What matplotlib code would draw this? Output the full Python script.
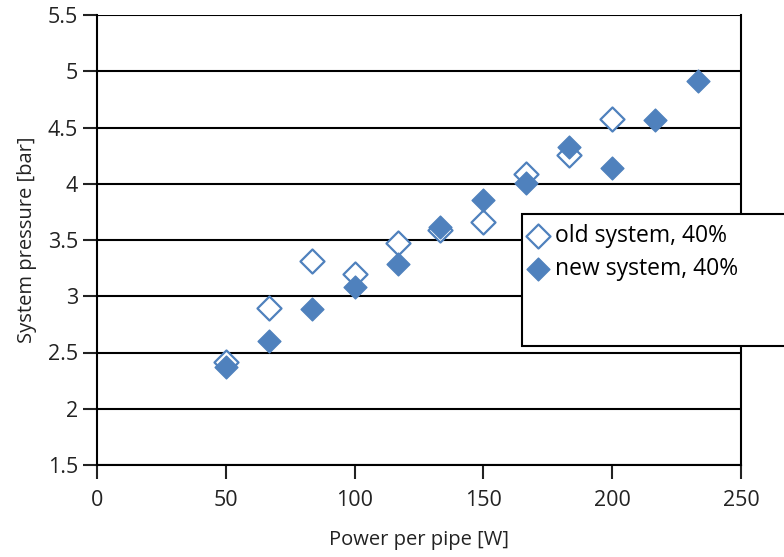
import matplotlib
matplotlib.use('Agg')
import matplotlib.pyplot as plt
from matplotlib.patches import Rectangle

# power per pipe [W] and system pressure [bar]
power_old = [50, 66.7, 83.3, 100, 116.7, 133.3, 150, 166.7, 183.3, 200]
pressure_old = [2.42, 2.90, 3.31, 3.20, 3.47, 3.59, 3.66, 4.09, 4.26, 4.58]
power_new = [50, 66.7, 83.3, 100, 116.7, 133.3, 150, 166.7, 183.3, 200, 216.7, 233.3]
pressure_new = [2.37, 2.60, 2.89, 3.08, 3.29, 3.62, 3.86, 4.01, 4.33, 4.14, 4.57, 4.91]

x_ticks = [0, 50, 100, 150, 200, 250]
y_ticks = [1.5, 2, 2.5, 3, 3.5, 4, 4.5, 5, 5.5]
y_labels = ['1.5', '2', '2.5', '3', '3.5', '4', '4.5', '5', '5.5']

blue = '#4f81bd'
txt = '#222222'
plt.rcParams['font.family'] = ['Open Sans', 'DejaVu Sans']

fig = plt.figure(figsize=(7.84, 5.57), dpi=100)
ax = fig.add_axes([97 / 784, 92 / 557, 644 / 784, 450 / 557])

ax.scatter(power_old, pressure_old, marker='D', s=150, facecolors='white',
           edgecolors=blue, linewidths=1.6, label='old system, 40%', zorder=3)
ax.scatter(power_new, pressure_new, marker='D', s=135, color=blue,
           label='new system, 40%', zorder=4)

ax.set_xlim(0, 250)
ax.set_ylim(1.5, 5.5)
ax.set_xticks(x_ticks)
ax.set_yticks(y_ticks)
ax.set_yticklabels(y_labels)
ax.yaxis.grid(True, color='black', linewidth=1.5)
ax.set_axisbelow(True)
for s in ax.spines.values():
    s.set_linewidth(1.5)
ax.spines['top'].set_visible(False)
ax.tick_params(length=10, width=1.5, labelsize=15.5, colors=txt)
ax.tick_params(axis='x', pad=8)
ax.set_xlabel('Power per pipe [W]', fontsize=14.5, color=txt, labelpad=14)
ax.set_ylabel('System pressure [bar]', fontsize=14.5, color=txt, labelpad=8)

# legend box extends past the right edge of the figure
fig.patches.append(Rectangle((522 / 784, 211 / 557), 0.4, 132 / 557,
                             transform=fig.transFigure, facecolor='white',
                             edgecolor='black', linewidth=1.5, zorder=5))
leg = fig.legend(loc='upper left', bbox_to_anchor=(522 / 784, 338 / 557),
                 frameon=False, fontsize=16.5, handletextpad=0.25,
                 handlelength=1.0, borderpad=0.1, borderaxespad=0.1,
                 labelspacing=0.4, scatterpoints=1)
leg.set_zorder(6)

fig.savefig('out.png', dpi=100)
